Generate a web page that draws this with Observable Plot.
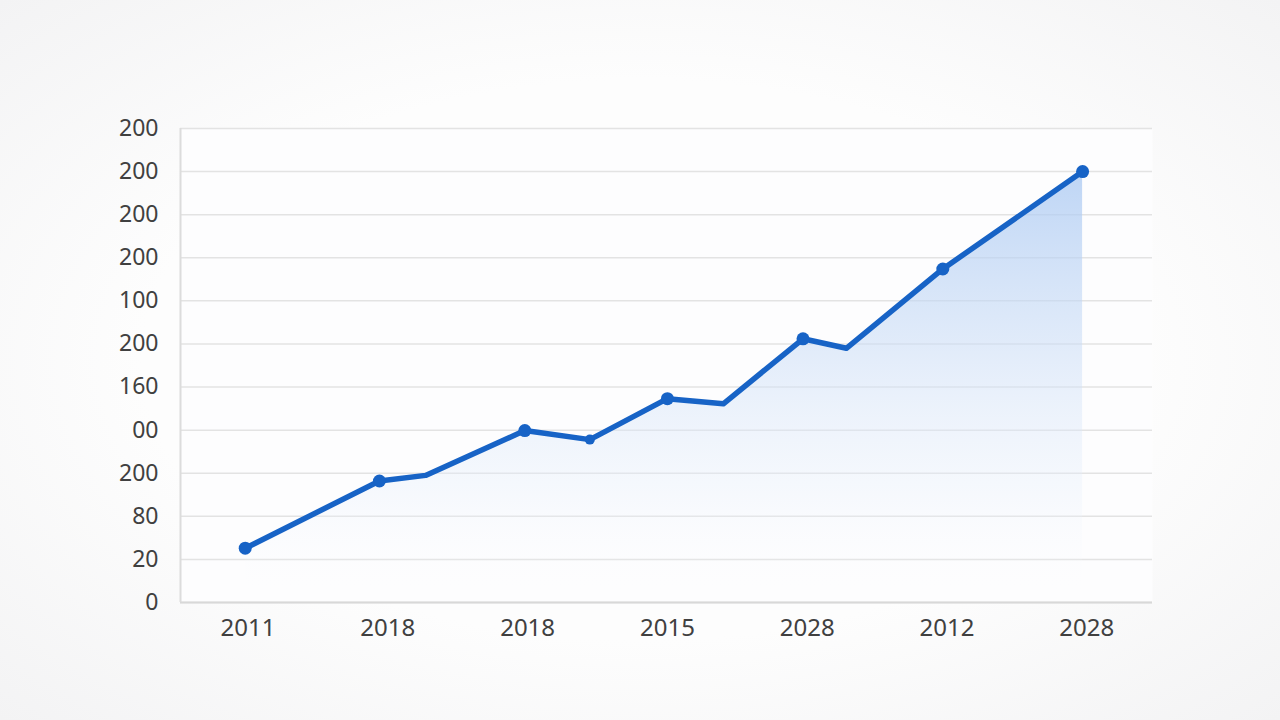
<!DOCTYPE html>
<html><head><meta charset="utf-8">
<script src="https://cdn.jsdelivr.net/npm/d3@7"></script>
<script src="https://cdn.jsdelivr.net/npm/@observablehq/plot@0.6"></script>
<style>
html,body{margin:0;padding:0;background:#f8f8f9;}
#chart{width:1280px;height:720px;background:radial-gradient(ellipse at center,#fdfdfd 55%,#f3f3f4 100%);}
svg{display:block;}
</style></head><body><div id="chart"></div>
<script>
const xTickLabels = ["2011","2018","2018","2015","2028","2012","2028"];
const yTickLabels = ["0","20","80","200","00","160","200","100","200","200","200","200"];
const xPositions = [-0.02,0.94,1.27,1.98,2.445,3.0,3.40,3.97,4.28,4.97,5.97];
const values = [1.26,2.82,2.95,3.99,3.78,4.73,4.61,6.12,5.90,7.74,10.0];
const markedIndex = [0,1,3,5,7,9,10];
const smallMarkedIndex = [4];

const data = xPositions.map((x,i)=>({x, y: values[i]}));
const marked = markedIndex.map(i=>data[i]);
const smallMarked = smallMarkedIndex.map(i=>data[i]);
const blue = "#1763c6";

const chart = Plot.plot({
  width: 1280, height: 720,
  marginLeft: 180, marginRight: 128, marginTop: 128, marginBottom: 118,
  style: {fontFamily: "'Noto Sans', 'Open Sans', sans-serif", fontSize: "23px", color: "#404040", background: "transparent"},
  x: {domain: [-0.483, 6.47], label: null},
  y: {domain: [0, 11], label: null},
  marks: [
    Plot.frame({fill: "#fdfdfe", stroke: null}),
    Plot.gridY(d3.range(12), {stroke: "#e3e3e3", strokeOpacity: 1, strokeWidth: 1.5}),
    Plot.areaY(data, {x: "x", y: "y", fill: "url(#areaGrad)"}),
    Plot.ruleY([0], {stroke: "#d8d8d8", strokeWidth: 2}),
    Plot.ruleX([-0.483], {stroke: "#dcdcdc", strokeWidth: 2}),
    Plot.line(data, {x: "x", y: "y", stroke: blue, strokeWidth: 5.5, strokeLinejoin: "round", strokeLinecap: "round"}),
    Plot.dot(marked, {x: "x", y: "y", r: 6.5, fill: blue}),
    Plot.dot(smallMarked, {x: "x", y: "y", r: 5, fill: blue}),
    Plot.axisY({ticks: d3.range(12), tickFormat: i => yTickLabels[i], tickSize: 0, tickPadding: 22, fontSize: 23, fill: "#404040", label: null}),
    Plot.axisX({ticks: d3.range(7), tickFormat: i => xTickLabels[i], tickSize: 0, tickPadding: 16, fontSize: 24, fill: "#404040", label: null})
  ]
});

const defs = d3.select(chart).insert("defs", ":first-child");
const g = defs.append("linearGradient").attr("id", "areaGrad")
  .attr("x1", 0).attr("y1", 0).attr("x2", 0).attr("y2", 1);
g.append("stop").attr("offset", "0%").attr("stop-color", "#a9c8f2").attr("stop-opacity", 0.75);
g.append("stop").attr("offset", "40%").attr("stop-color", "#c9dcf6").attr("stop-opacity", 0.55);
g.append("stop").attr("offset", "75%").attr("stop-color", "#e6effb").attr("stop-opacity", 0.3);
g.append("stop").attr("offset", "100%").attr("stop-color", "#ffffff").attr("stop-opacity", 0);

document.getElementById("chart").appendChild(chart);
</script>
</body></html>
